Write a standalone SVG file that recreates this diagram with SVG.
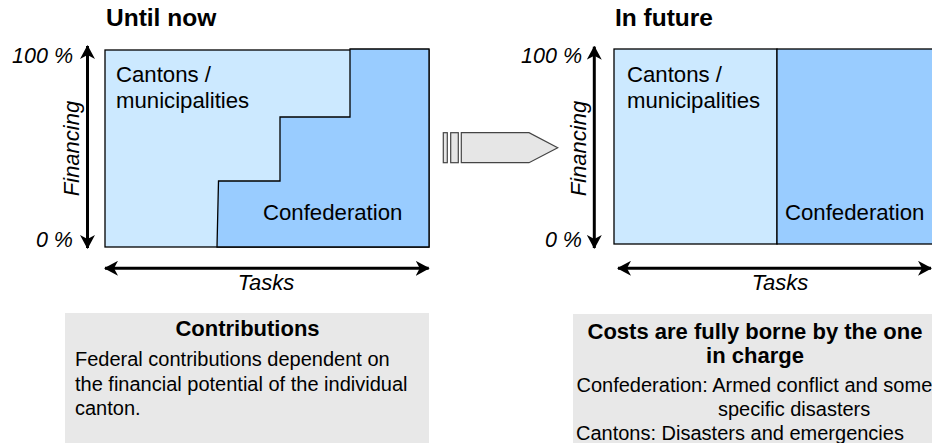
<svg xmlns="http://www.w3.org/2000/svg" width="932" height="443" viewBox="0 0 932 443">
<defs>
<marker id="ah" viewBox="0 0 14 15" refX="13" refY="7.5" markerWidth="14" markerHeight="15" markerUnits="userSpaceOnUse" orient="auto-start-reverse">
<path d="M0,0 L14,7.5 L0,15 L4,7.5 z" fill="#000"/>
</marker>
<style>
text{font-family:"Liberation Sans",Arial,sans-serif;fill:#000}
.title{font-size:24.5px;font-weight:bold}
.lbl{font-size:22.2px}
.ax{font-size:21.5px;font-style:italic}
.axl{font-size:22px;font-style:italic}
.hd{font-size:22px;font-weight:bold}
.body{font-size:20px}
.light{fill:#cce9ff;stroke:#000;stroke-width:1.3}
.dark{fill:#99ccff;stroke:#000;stroke-width:1.3}
.axis{stroke:#000;stroke-width:3;fill:none;marker-start:url(#ah);marker-end:url(#ah)}
.box{fill:#e8e8e8}
.barrow{fill:#e6e6e6;stroke:#444;stroke-width:1.2}
</style>
</defs>
<rect width="932" height="443" fill="#fff"/>

<g id="left-chart">
<text class="title" x="106" y="26">Until now</text>
<rect class="light" x="105" y="50" width="324" height="197"/>
<polygon class="dark" points="217,247 218.5,181 280,181 280,117 350,117 350,49 429,49 429,247"/>
<text class="lbl" x="116" y="81.5">Cantons /</text>
<text class="lbl" x="116" y="108">municipalities</text>
<text class="lbl" x="263" y="220">Confederation</text>
<text class="ax" x="73" y="63" text-anchor="end">100 %</text>
<text class="ax" x="73" y="247" text-anchor="end">0 %</text>
<text class="axl" transform="translate(79,148.5) rotate(-90)" text-anchor="middle">Financing</text>
<text class="axl" x="266" y="290" text-anchor="middle">Tasks</text>
</g>

<g id="right-chart">
<text class="title" x="615" y="26">In future</text>
<rect class="light" x="614" y="49" width="163" height="195"/>
<rect class="dark" x="777" y="49" width="170" height="195"/>
<text class="lbl" x="627" y="81.5">Cantons /</text>
<text class="lbl" x="627" y="108">municipalities</text>
<text class="lbl" x="785" y="220">Confederation</text>
<text class="ax" x="582" y="63" text-anchor="end">100 %</text>
<text class="ax" x="582" y="247" text-anchor="end">0 %</text>
<text class="axl" transform="translate(586,148.5) rotate(-90)" text-anchor="middle">Financing</text>
<text class="axl" x="780" y="290" text-anchor="middle">Tasks</text>
</g>

<g id="transition-arrow">
<rect class="barrow" x="443.3" y="132.7" width="4" height="30"/>
<rect class="barrow" x="450.7" y="132.7" width="7.6" height="30"/>
<polygon class="barrow" points="461.3,132.7 529,132.7 557.7,147.7 529,162.7 461.3,162.7"/>
</g>

<g id="connectors">
<line class="axis" x1="87.5" y1="248" x2="87.5" y2="46"/>
<line class="axis" x1="105" y1="268.3" x2="428.7" y2="268.3"/>
<line class="axis" x1="594.3" y1="248" x2="594.3" y2="46.7"/>
<line class="axis" x1="618" y1="268.3" x2="931" y2="268.3"/>
</g>

<g id="box-contributions">
<rect class="box" x="65" y="313" width="364" height="135"/>
<text class="hd" x="247.5" y="335.5" text-anchor="middle">Contributions</text>
<text class="body" x="75" y="366">Federal contributions dependent on</text>
<text class="body" x="75" y="390.5">the financial potential of the individual</text>
<text class="body" x="75" y="415">canton.</text>
</g>

<g id="box-costs">
<rect class="box" x="573" y="314" width="370" height="134"/>
<text class="hd" x="755" y="339" text-anchor="middle">Costs are fully borne by the one</text>
<text class="hd" x="755" y="362.5" text-anchor="middle">in charge</text>
<text class="body" x="576.5" y="391.5">Confederation: Armed conflict and some</text>
<text class="body" x="718" y="416">specific disasters</text>
<text class="body" x="576" y="440">Cantons: Disasters and emergencies</text>
</g>
</svg>
